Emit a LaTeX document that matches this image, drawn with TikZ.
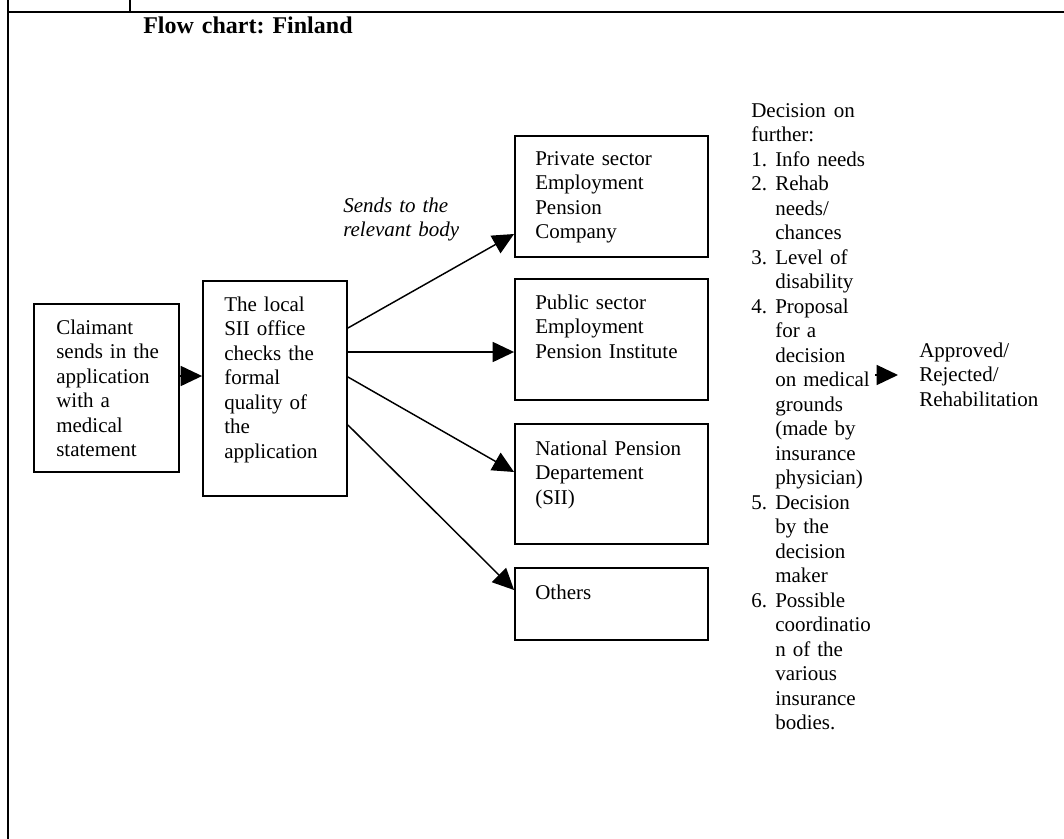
\documentclass[tikz,border=0pt]{standalone}
\usepackage{fontspec}
\setmainfont{Liberation Serif}
\usetikzlibrary{arrows.meta,fit}
\frenchspacing

% list number followed by its text, and an indent for continued lines
\newcommand\numitem[1]{\makebox[18pt][l]{#1}}
\newcommand\cont{\hspace*{18pt}}

\begin{document}
\begin{tikzpicture}[
    x=0.75pt, y=-0.75pt,
    frame/.style={line width=1.5pt},
    box/.style={draw, line width=1.4pt, inner sep=0pt},
    txt/.style={inner sep=0pt, anchor=base west, align=left, text width=240pt,
                font=\fontsize{15.75pt}{18.375pt}\selectfont},
    arr/.style={line width=1.1pt, -{Triangle[length=16pt,width=15pt]}}
  ]
  \useasboundingbox (0,0) rectangle (1064,839);

  % page frame
  \draw[frame] (8,0) -- (8,839);
  \draw[frame] (8,11.5) -- (1064,11.5);
  \draw[frame] (130,0) -- (130,11.5);

  % heading
  \node[txt, font=\fontsize{18pt}{21pt}\selectfont\bfseries] (title) at (143,33) {Flow chart: Finland};

  % boxes
  \node[box, fit={(34,304) (179,472)}] (claim) {};
  \node[box, fit={(203,281) (347,496)}] (local) {};
  \node[box, fit={(515,136) (708,257)}] (priv) {};
  \node[box, fit={(515,279) (708,400)}] (publ) {};
  \node[box, fit={(515,424) (708,544)}] (natl) {};
  \node[box, fit={(515,568) (708,640)}] (othr) {};

  % box texts
  \node[txt] (claimtxt) at (56,334) {Claimant\\sends in the\\application\\with a\\medical\\statement};
  \node[txt] (localtxt) at (224,311) {The local\\SII office\\checks the\\formal\\quality of\\the\\application};
  \node[txt] (privtxt) at (535,165) {Private sector\\Employment\\Pension\\Company};
  \node[txt] (publtxt) at (535,309) {Public sector\\Employment\\Pension Institute};
  \node[txt] (natltxt) at (535,455) {National Pension\\Departement\\(SII)};
  \node[txt] (othrtxt) at (535,599) {Others};

  % label on the fan of arrows
  \node[txt, font=\fontsize{15.75pt}{18.375pt}\selectfont\itshape] (sends) at (343,212) {Sends to the\\relevant body};

  % decision steps
  \node[txt] (dec) at (751,117) {Decision\hspace{0.38em}on\\further:\\
    \numitem{1.}Info needs\\
    \numitem{2.}Rehab\\\cont needs/\\\cont chances\\
    \numitem{3.}Level of\\\cont disability\\
    \numitem{4.}Proposal\\\cont for a\\\cont decision\\\cont on medical\\\cont grounds\\\cont (made by\\\cont insurance\\\cont physician)\\
    \numitem{5.}Decision\\\cont by the\\\cont decision\\\cont maker\\
    \numitem{6.}Possible\\\cont coordinatio\\\cont n of the\\\cont various\\\cont insurance\\\cont bodies.};

  % outcome
  \coordinate (decout) at (875,375);
  \node[txt, inner xsep=15.75pt] (res) at (898,357) {Approved/\\Rejected/\\Rehabilitation};

  % connectors
  \draw[arr] (claim.east |- 0,376) -- (local.west |- 0,376);
  \draw[arr] (local.east |- 0,328) -- (priv.west |- 0,234);
  \draw[arr] (local.east |- 0,352) -- (publ.west |- 0,352);
  \draw[arr] (local.east |- 0,377) -- (natl.west |- 0,472);
  \draw[arr] (local.east |- 0,425) -- (othr.west |- 0,590);
  \draw[arr] (decout) -- (res.west |- decout);
\end{tikzpicture}
\end{document}
